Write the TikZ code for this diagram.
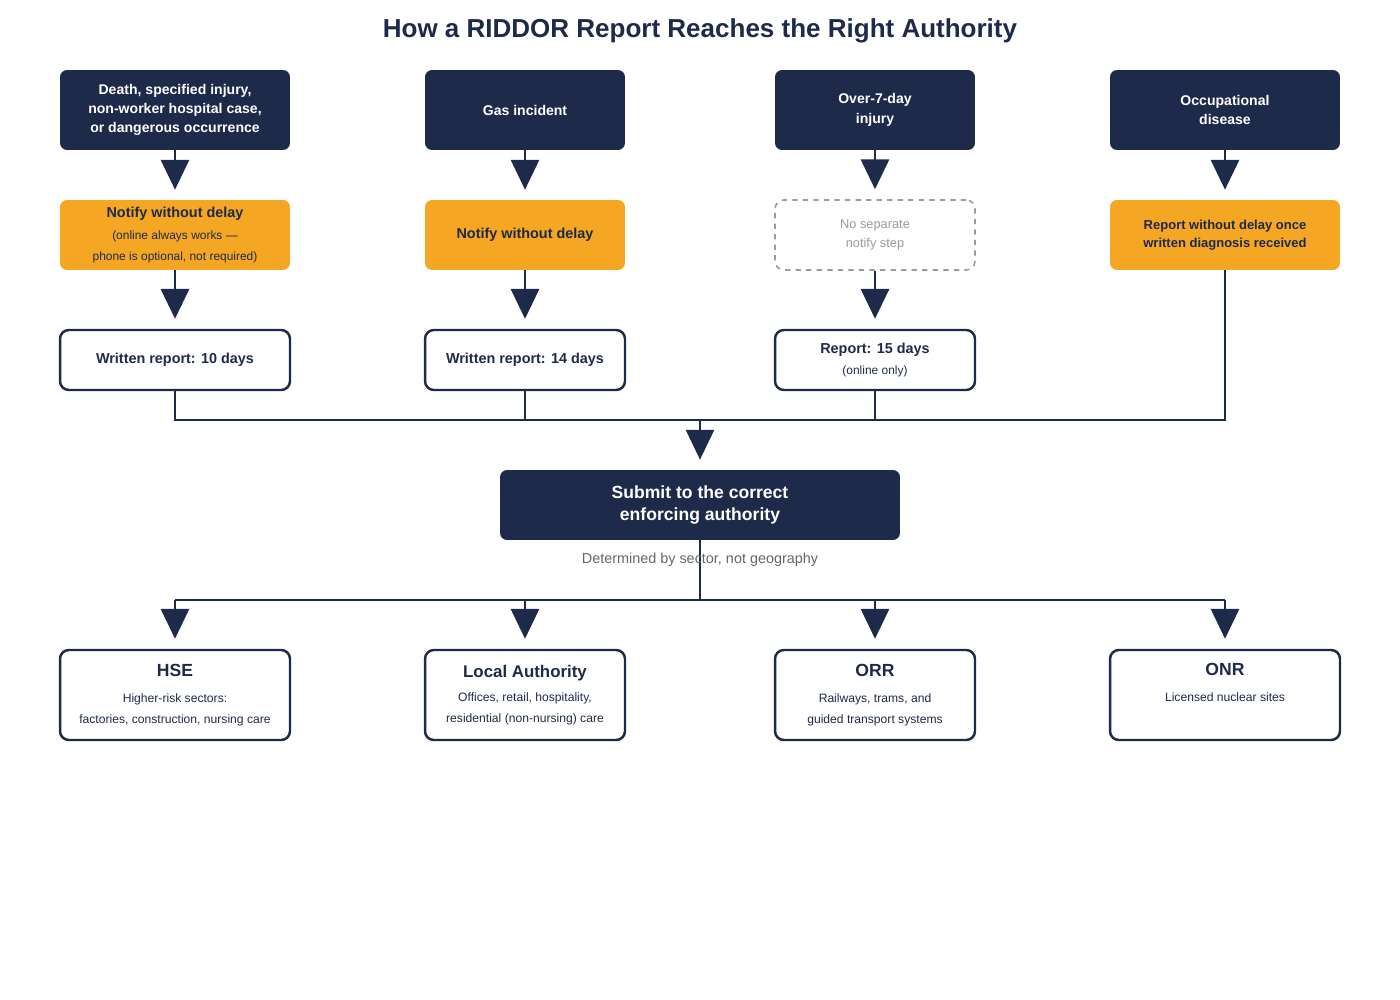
\documentclass[tikz,border=0pt]{standalone}
\usepackage{fontspec}
\setmainfont{Liberation Sans}
\usetikzlibrary{arrows.meta}
\definecolor{navy}{HTML}{1E2A4A}
\definecolor{amber}{HTML}{F5A623}
\definecolor{ghost}{HTML}{9A9A9A}
\tikzset{
  darkbox/.style={fill=navy, rounded corners=4pt, text=white, font=\bfseries\fontsize{8}{11}\selectfont, align=center, inner sep=0pt},
  orangebox/.style={fill=amber, rounded corners=4pt, text=navy, align=center, inner sep=0pt},
  outbox/.style={draw=navy, line width=1.4pt, fill=white, rounded corners=5pt, text=navy, align=center, inner sep=0pt},
  ghostbox/.style={draw=ghost, dashed, line width=0.9pt, rounded corners=5pt, text=ghost, align=center, inner sep=0pt, font=\fontsize{7.3}{10.5}\selectfont},
  flow/.style={draw=navy, line width=1.4pt, -{Triangle[width=16pt,length=17pt]}},
  link/.style={draw=navy, line width=1.4pt}
}
\begin{document}
\begin{tikzpicture}[x=0.02cm, y=-0.02cm]
\useasboundingbox (0,0) rectangle (1400,1000);
% Title
\node[font=\bfseries\fontsize{14.8}{18}\selectfont, text=navy] (title) at (700,31) {How a RIDDOR Report Reaches the Right Authority};

% Incident types
\node[darkbox, minimum width=4.6cm, minimum height=1.6cm] (death) at (175,110) {Death, specified injury,\\non-worker hospital case,\\or dangerous occurrence};
\node[darkbox, minimum width=4cm, minimum height=1.6cm] (gas) at (525,110) {Gas incident};
\node[darkbox, minimum width=4cm, minimum height=1.6cm] (over) at (875,110) {Over-7-day\\injury};
\node[darkbox, minimum width=4.6cm, minimum height=1.6cm] (disease) at (1225,110) {Occupational\\disease};

% Notify step
\node[orangebox, minimum width=4.6cm, minimum height=1.4cm] (notifyA) at (175,235) {{\bfseries\fontsize{8.2}{11}\selectfont Notify without delay}\\[1pt]{\fontsize{6.8}{8}\selectfont (online always works ---}\\{\fontsize{6.8}{8}\selectfont phone is optional, not required)}};
\node[orangebox, minimum width=4cm, minimum height=1.4cm, font=\bfseries\fontsize{8.2}{11}\selectfont] (notifyB) at (525,235) {Notify without delay};
\node[ghostbox, minimum width=4cm, minimum height=1.4cm] (nostep) at (875,235) {No separate\\notify step};
\node[orangebox, minimum width=4.6cm, minimum height=1.4cm, font=\bfseries\fontsize{7.4}{10.5}\selectfont] (notifyD) at (1225,235) {Report without delay once\\written diagnosis received};

% Written reports
\node[outbox, minimum width=4.6cm, minimum height=1.2cm, font=\bfseries\fontsize{8.2}{11}\selectfont] (rep10) at (175,360) {Written report: 10 days};
\node[outbox, minimum width=4cm, minimum height=1.2cm, font=\bfseries\fontsize{8.2}{11}\selectfont] (rep14) at (525,360) {Written report: 14 days};
\node[outbox, minimum width=4cm, minimum height=1.2cm] (rep15) at (875,360) {{\bfseries\fontsize{8.2}{11}\selectfont Report: 15 days}\\{\fontsize{6.8}{9}\selectfont (online only)}};

\foreach \a/\b in {death/notifyA, gas/notifyB, over/nostep, disease/notifyD, notifyA/rep10, notifyB/rep14, nostep/rep15}
  \draw[flow, shorten >=10pt*0.567] (\a) -- (\b);

% Merge
\coordinate (mA) at (175,420);
\coordinate (mD) at (1225,420);
\coordinate (mC) at (700,420);
\draw[link] (rep10.south) -- (mA) -- (mD) -- (notifyD.south);
\draw[link] (rep14.south) -- (525,420);
\draw[link] (rep15.south) -- (875,420);

\node[darkbox, minimum width=8cm, minimum height=1.4cm, font=\bfseries\fontsize{10}{12.5}\selectfont] (submit) at (700,505) {Submit to the correct\\enforcing authority};
\draw[flow, shorten >=5.7pt] (mC) -- (submit);

% Authorities
\node[outbox, minimum width=4.6cm, minimum height=1.8cm] (hse) at (175,695) {{\bfseries\fontsize{10}{12}\selectfont HSE}\\[3pt]{\fontsize{6.9}{9}\selectfont Higher-risk sectors:}\\{\fontsize{6.9}{9}\selectfont factories, construction, nursing care}};
\node[outbox, minimum width=4cm, minimum height=1.8cm] (la) at (525,695) {{\bfseries\fontsize{9.6}{12}\selectfont Local Authority}\\[2pt]{\fontsize{6.9}{9}\selectfont Offices, retail, hospitality,}\\{\fontsize{6.9}{9}\selectfont residential (non-nursing) care}};
\node[outbox, minimum width=4cm, minimum height=1.8cm] (orr) at (875,695) {{\bfseries\fontsize{10}{12}\selectfont ORR}\\[3pt]{\fontsize{6.9}{9}\selectfont Railways, trams, and}\\{\fontsize{6.9}{9}\selectfont guided transport systems}};
\node[outbox, minimum width=4.6cm, minimum height=1.8cm] (onr) at (1225,695) {{\bfseries\fontsize{10}{12}\selectfont ONR}\\[3pt]{\fontsize{6.9}{9}\selectfont Licensed nuclear sites}\\{\fontsize{6.9}{9}\selectfont \strut}};

\coordinate (sA) at (175,600);
\coordinate (sD) at (1225,600);
\draw[link] (submit.south) -- (700,600);
\draw[link] (sA) -- (sD);
\foreach \x/\b in {175/hse, 525/la, 875/orr, 1225/onr}
  \draw[flow, shorten >=5.7pt] (\x,600) -- (\b);

\node[font=\fontsize{8.2}{10}\selectfont, text=black!60] (note) at (700,560) {Determined by sector, not geography};
\end{tikzpicture}
\end{document}
